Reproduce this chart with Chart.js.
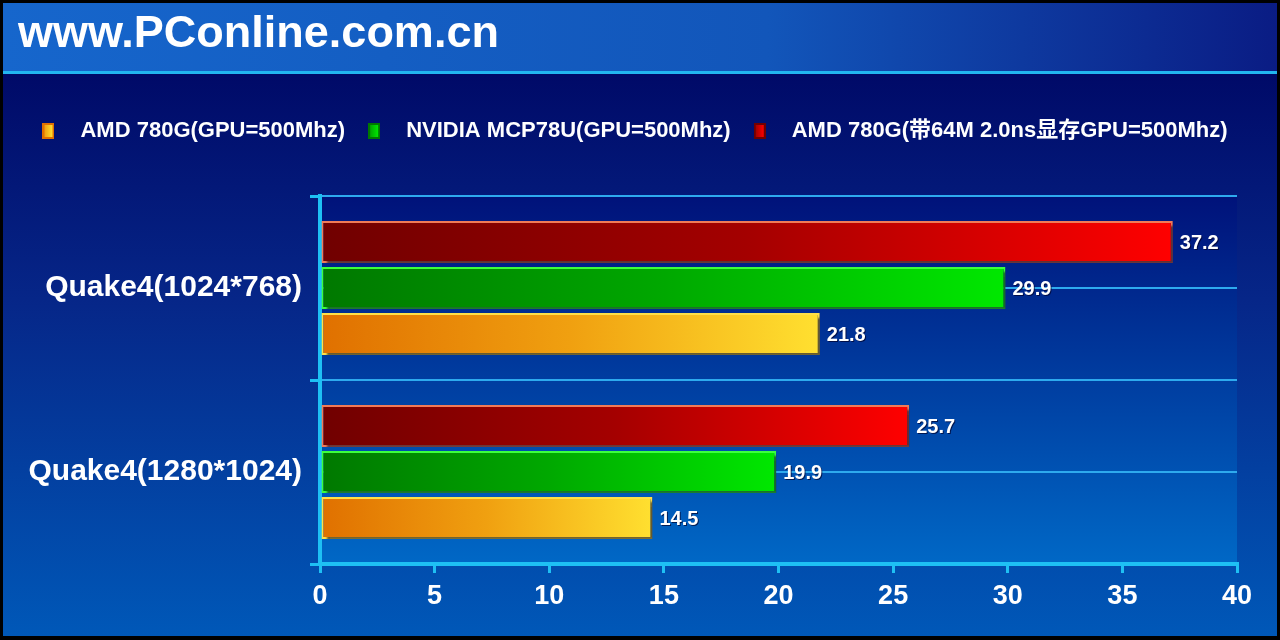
<!DOCTYPE html>
<html>
<head>
<meta charset="utf-8">
<title>Quake4 - PConline</title>
<script src="https://cdn.jsdelivr.net/npm/chart.js@4.4.1/dist/chart.umd.min.js"></script>
<style>
  html, body { margin: 0; padding: 0; background: #000; }
  #wrap { width: 1280px; height: 640px; }
</style>
</head>
<body>
<div id="wrap"><canvas id="myChart" width="1280" height="640"></canvas></div>
<script>
const categories = ["Quake4(1024*768)", "Quake4(1280*1024)"];
const seriesNames = [
    "AMD 780G(带64M 2.0ns显存GPU=500Mhz)",
    "NVIDIA MCP78U(GPU=500Mhz)",
    "AMD 780G(GPU=500Mhz)"
];
const amd780gSideport = [37.2, 25.7];
const nvidiaMcp78u = [29.9, 19.9];
const amd780g = [21.8, 14.5];
const xTicks = [0, 5, 10, 15, 20, 25, 30, 35, 40];
const headerText = "www.PConline.com.cn";

const family = '"Liberation Sans", Arial, "Noto Sans CJK SC", sans-serif';
const cyan = "#1ec0f4";

// colores de cada serie: oscuro -> claro, y borde
const palette = [
    { dark: "#700000", mid: "#a40000", light: "#ff0000", edge: "#f07a58" },
    { dark: "#007800", mid: "#00a800", light: "#00e800", edge: "#3cff3c" },
    { dark: "#e07000", mid: "#f0a010", light: "#ffe030", edge: "#ffe048" }
];

function barGradient(p) {
    return (context) => {
        const chart = context.chart;
        if (!chart.chartArea || context.raw == null) return p.mid;
        const x0 = chart.scales.x.getPixelForValue(0);
        const x1 = chart.scales.x.getPixelForValue(context.raw);
        const g = chart.ctx.createLinearGradient(x0, 0, x1, 0);
        g.addColorStop(0, p.dark);
        g.addColorStop(0.5, p.mid);
        g.addColorStop(1, p.light);
        return g;
    };
}

function legendSwatch(p) {
    const c = document.createElement("canvas");
    c.width = 12;
    c.height = 16;
    const g = c.getContext("2d");
    g.fillStyle = p.dark;
    g.fillRect(0, 0, 12, 16);
    const grad = g.createLinearGradient(2, 0, 10, 0);
    grad.addColorStop(0, p.mid);
    grad.addColorStop(1, p.light);
    g.fillStyle = grad;
    g.fillRect(2, 2, 8, 12);
    return c;
}
const swatches = palette.map(legendSwatch);

const values = [amd780gSideport, nvidiaMcp78u, amd780g];
const datasets = values.map((data, i) => ({
    label: seriesNames[i],
    data,
    yAxisID: "y",
    backgroundColor: barGradient(palette[i]),
    borderColor: palette[i].edge,
    borderWidth: 2,
    borderSkipped: false,
    categoryPercentage: 0.75,
    barPercentage: 0.913
}));

const background = {
    id: "background",
    beforeDraw(chart) {
        const ctx = chart.ctx;
        const { left, top, right, bottom } = chart.chartArea;
        ctx.save();
        ctx.fillStyle = "#000";
        ctx.fillRect(0, 0, 1280, 640);

        let g = ctx.createLinearGradient(0, 75, 0, 636);
        g.addColorStop(0, "#000a68");
        g.addColorStop(0.4, "#062688");
        g.addColorStop(1, "#0058b8");
        ctx.fillStyle = g;
        ctx.fillRect(3, 74, 1274, 562);

        g = ctx.createLinearGradient(0, top, 0, bottom);
        g.addColorStop(0, "#00127a");
        g.addColorStop(1, "#0068c6");
        ctx.fillStyle = g;
        ctx.fillRect(left, top, right - left, bottom - top);

        g = ctx.createLinearGradient(3, 0, 1277, 0);
        g.addColorStop(0, "#1666cc");
        g.addColorStop(0.6, "#1256ba");
        g.addColorStop(1, "#0a1c84");
        ctx.fillStyle = g;
        ctx.fillRect(3, 3, 1274, 68);

        ctx.fillStyle = "#22b6f0";
        ctx.fillRect(3, 71, 1274, 3);
        ctx.restore();
    }
};

const barsExtra = {
    id: "barsExtra",
    beforeDatasetsDraw(chart) {
        const ctx = chart.ctx;
        ctx.save();
        ctx.shadowColor = "rgba(0, 0, 30, 0.6)";
        ctx.shadowOffsetX = 3;
        ctx.shadowOffsetY = 3;
        ctx.shadowBlur = 2;
    },
    afterDatasetsDraw(chart) {
        const ctx = chart.ctx;
        ctx.restore();
        ctx.save();
        ctx.font = "bold 20px " + family;
        ctx.fillStyle = "#fff";
        ctx.textBaseline = "middle";
        ctx.textAlign = "left";
        ctx.shadowColor = "rgba(0, 0, 40, 0.7)";
        ctx.shadowOffsetX = 1;
        ctx.shadowOffsetY = 1;
        chart.data.datasets.forEach((ds, i) => {
            chart.getDatasetMeta(i).data.forEach((bar, j) => {
                ctx.fillText(ds.data[j].toFixed(1), bar.x + 7, bar.y + 1);
            });
        });
        ctx.restore();
    }
};

const ctx = document.querySelector("#myChart").getContext("2d");
const myChart = new Chart(ctx, {
    type: "bar",
    data: { labels: categories, datasets },
    options: {
        indexAxis: "y",
        responsive: false,
        animation: false,
        layout: { padding: { left: 18, right: 43, top: 0, bottom: 0 } },
        plugins: {
            title: {
                display: true,
                text: headerText,
                align: "start",
                color: "#fff",
                font: { size: 45, weight: "bold", family },
                padding: { top: 8, bottom: 50 }
            },
            legend: {
                display: true,
                reverse: true,
                weight: 1800,
                labels: {
                    color: "#fff",
                    font: { size: 22, weight: "bold", family },
                    usePointStyle: true,
                    pointStyleWidth: 42,
                    padding: 8,
                    generateLabels(chart) {
                        const items = Chart.defaults.plugins.legend.labels.generateLabels(chart);
                        items.forEach((it) => {
                            it.pointStyle = swatches[it.datasetIndex];
                            it.fontColor = "#fff";
                        });
                        return items;
                    }
                }
            },
            // espacio entre leyenda y grafico
            subtitle: {
                display: true,
                text: "",
                padding: 0,
                font: { size: 44, lineHeight: 1 }
            },
            tooltip: { enabled: false }
        },
        scales: {
            x: {
                min: 0,
                max: 40,
                afterBuildTicks: (scale) => {
                    scale.ticks = xTicks.map((v) => ({ value: v }));
                },
                afterFit: (scale) => { scale.height = 76; },
                border: { display: true, color: cyan, width: 4 },
                grid: { drawOnChartArea: false, drawTicks: true, tickLength: 9, color: cyan, lineWidth: 3 },
                ticks: { color: "#fff", font: { size: 27, weight: "bold", family }, padding: 7 }
            },
            y: {
                afterFit: (scale) => { scale.width = 302; },
                border: { display: true, color: cyan, width: 4 },
                grid: { offset: true, drawOnChartArea: false, drawTicks: true, tickLength: 10, color: cyan, lineWidth: 3 },
                ticks: { color: "#fff", font: { size: 30, weight: "bold", family }, padding: 8 }
            },
            // lineas horizontales cada media categoria
            yGrid: {
                type: "linear",
                position: "right",
                min: 0,
                max: 4,
                offset: false,
                afterBuildTicks: (scale) => {
                    scale.ticks = [0, 1, 2, 3, 4].map((v) => ({ value: v }));
                },
                afterFit: (scale) => { scale.width = 0; },
                ticks: { display: false },
                border: { display: false },
                grid: { offset: false, color: "#2eaaee", lineWidth: 2, drawTicks: false }
            }
        }
    },
    plugins: [background, barsExtra]
});
</script>
</body>
</html>
